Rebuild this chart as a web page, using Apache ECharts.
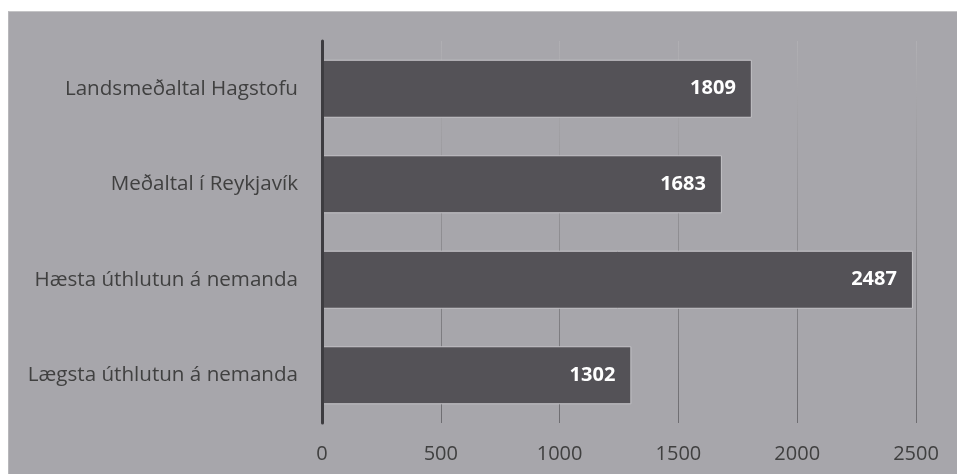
<!DOCTYPE html>
<html>
<head>
<meta charset="utf-8">
<script src="https://cdn.jsdelivr.net/npm/echarts@6/dist/echarts.min.js"></script>
<style>
  html, body { margin: 0; padding: 0; background: #ffffff; }
  #chart {
    position: absolute; left: 8px; top: 11px;
    width: 948px; height: 462px;
    border-top: 1px solid #c4c4c6; border-left: 1px solid #b8b8bb;
  }
</style>
</head>
<body>
<div id="chart"></div>
<script>
// categories, top to bottom
let categories = [
  "Landsmeðaltal Hagstofu",
  "Meðaltal í Reykjavík",
  "Hæsta úthlutun á nemanda",
  "Lægsta úthlutun á nemanda"
];
let values = [1809, 1683, 2487, 1302];
let xTicks = [0, 500, 1000, 1500, 2000, 2500];

let myChart = echarts.init(document.getElementById("chart"));
let option = {
  backgroundColor: "#a7a6ab",
  animation: false,
  textStyle: { fontFamily: "Open Sans" },
  grid: { left: 313, right: 41, top: 29, bottom: 51 },
  xAxis: {
    type: "value",
    min: xTicks[0],
    max: xTicks[xTicks.length - 1],
    interval: 500,
    axisLine: { show: false },
    axisTick: { show: false },
    axisLabel: {
      color: "#404040",
      fontSize: 20,
      margin: 21,
      formatter: function (v) { return String(v); }
    },
    splitLine: {
      show: true,
      lineStyle: {
        width: 1,
        color: {
          type: "linear", x: 0, y: 30, x2: 0, y2: 411, global: true,
          colorStops: [
            { offset: 0, color: "#b0afb3" },
            { offset: 1, color: "#6e6d71" }
          ]
        }
      }
    }
  },
  yAxis: {
    type: "category",
    data: categories,
    inverse: true,
    z: 5,
    axisLine: { show: true, lineStyle: { color: "#3d3c40", width: 3 } },
    axisTick: { show: false },
    axisLabel: { color: "#404040", fontSize: 20.6, margin: 24 }
  },
  series: [
    {
      type: "bar",
      data: values,
      barWidth: 58,
      itemStyle: { color: "#545257", borderColor: "#c6c5c9", borderWidth: 1 },
      label: {
        show: true,
        position: "insideRight",
        distance: 16,
        color: "#ffffff",
        fontWeight: "bold",
        fontSize: 20
      }
    }
  ]
};
myChart.setOption(option);
</script>
</body>
</html>
